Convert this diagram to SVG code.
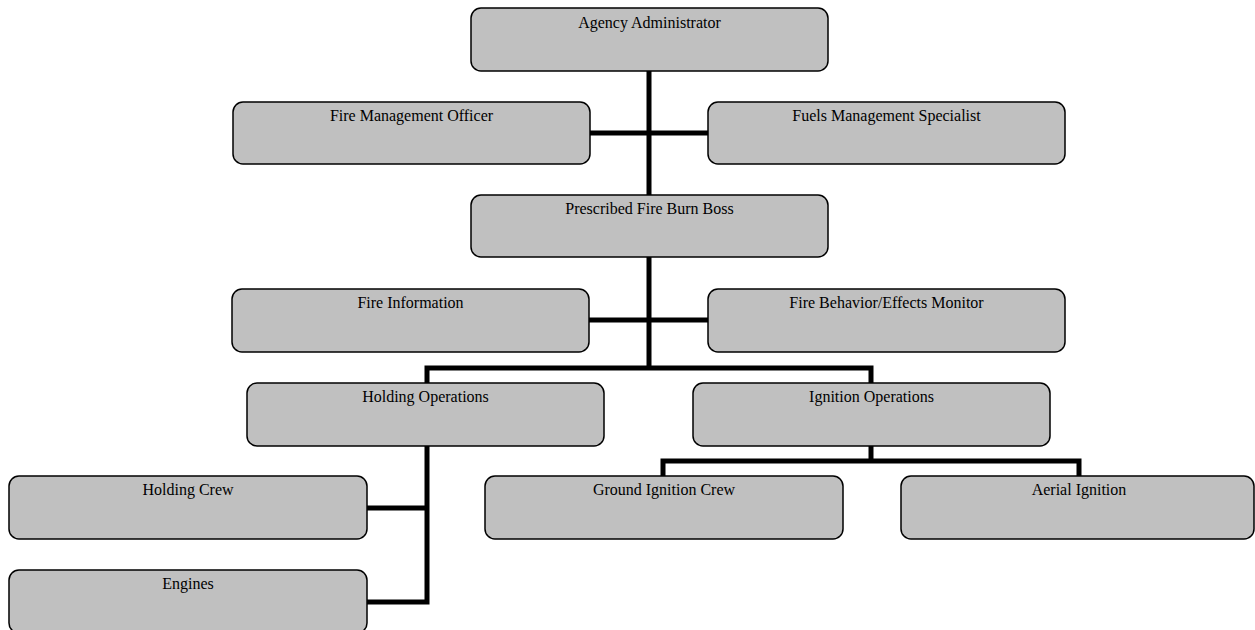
<svg xmlns="http://www.w3.org/2000/svg" width="1255" height="630" viewBox="0 0 1255 630">
<style>
.box{fill:#c0c0c0;stroke:#000;stroke-width:1.5}
.lbl{font-family:"Liberation Serif",serif;font-size:16px;fill:#000;text-anchor:middle}
.con{fill:none;stroke:#000;stroke-width:5}
</style>
<rect width="1255" height="630" fill="#fff"/>
<g id="connectors">
<path class="con" d="M649 71V368"/>
<path class="con" d="M590 133H708"/>
<path class="con" d="M589 320H708"/>
<path class="con" d="M427 383V368H871V383"/>
<path class="con" d="M427 446V602H367"/>
<path class="con" d="M367 508H427"/>
<path class="con" d="M871 446V461"/>
<path class="con" d="M663 476V461H1079V476"/>
</g>
<g id="agency-administrator"><rect class="box" x="471" y="8" width="357" height="63" rx="10"/><text class="lbl" x="649.5" y="28">Agency Administrator</text></g>
<g id="fire-management-officer"><rect class="box" x="233" y="102" width="357" height="62" rx="10"/><text class="lbl" x="411.5" y="121">Fire Management Officer</text></g>
<g id="fuels-management-specialist"><rect class="box" x="708" y="102" width="357" height="62" rx="10"/><text class="lbl" x="886.5" y="121">Fuels Management Specialist</text></g>
<g id="prescribed-fire-burn-boss"><rect class="box" x="471" y="195" width="357" height="62" rx="10"/><text class="lbl" x="649.5" y="214">Prescribed Fire Burn Boss</text></g>
<g id="fire-information"><rect class="box" x="232" y="289" width="357" height="63" rx="10"/><text class="lbl" x="410.5" y="308">Fire Information</text></g>
<g id="fire-behavior-effects-monitor"><rect class="box" x="708" y="289" width="357" height="63" rx="10"/><text class="lbl" x="886.5" y="308">Fire Behavior/Effects Monitor</text></g>
<g id="holding-operations"><rect class="box" x="247" y="383" width="357" height="63" rx="10"/><text class="lbl" x="425.5" y="402">Holding Operations</text></g>
<g id="ignition-operations"><rect class="box" x="693" y="383" width="357" height="63" rx="10"/><text class="lbl" x="871.5" y="402">Ignition Operations</text></g>
<g id="holding-crew"><rect class="box" x="9" y="476" width="358" height="63" rx="10"/><text class="lbl" x="188" y="495">Holding Crew</text></g>
<g id="engines"><rect class="box" x="9" y="570" width="358" height="63" rx="10"/><text class="lbl" x="188" y="589">Engines</text></g>
<g id="ground-ignition-crew"><rect class="box" x="485" y="476" width="358" height="63" rx="10"/><text class="lbl" x="664" y="495">Ground Ignition Crew</text></g>
<g id="aerial-ignition"><rect class="box" x="901" y="476" width="353" height="63" rx="10"/><text class="lbl" x="1079" y="495">Aerial Ignition</text></g>
</svg>
